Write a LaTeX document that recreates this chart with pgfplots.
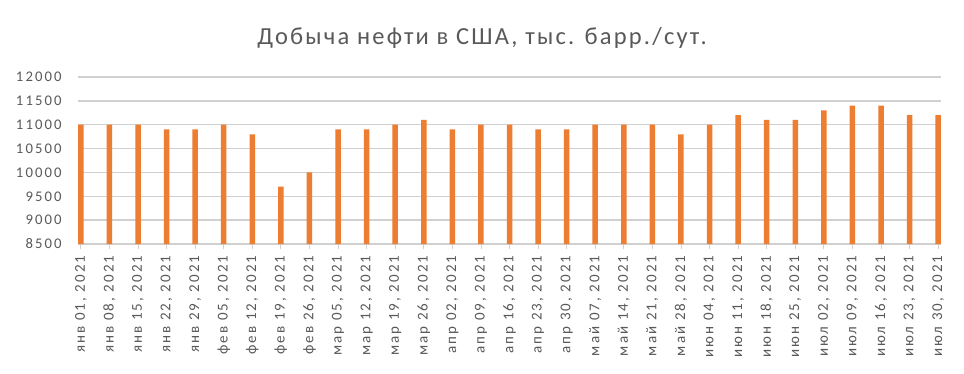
\documentclass[border=0pt]{standalone}
\usepackage{fontspec}
\setmainfont{Carlito}
\newfontfamily\titlefont[LetterSpace=9]{Carlito}
\newfontfamily\yfont[LetterSpace=14]{Carlito}
\newfontfamily\xfont[LetterSpace=14]{Carlito}
\usepackage{pgfplots}
\pgfplotsset{compat=1.18}
\definecolor{barc}{HTML}{ED7D31}
\definecolor{gridc}{HTML}{D0D0D0}
\definecolor{txt}{HTML}{595959}
\begin{document}
\begin{tikzpicture}
\path[use as bounding box, fill=white] (0,0) rectangle (964bp,-374bp);
\node[text=txt, font=\titlefont\fontsize{24.5bp}{28bp}\selectfont] at (482bp,-38bp) {Добыча нефти в США, тыс. барр./сут.};
\begin{axis}[
  anchor=north west, at={(78bp,-77bp)},
  width=863bp, height=167bp, scale only axis,
  xmin=-0.1, xmax=30.1, ymin=8500, ymax=12000,
  ytick={8500,9000,...,12000},
  scaled y ticks=false,
  xtick=data,
  xticklabels={{янв 01, 2021},{янв 08, 2021},{янв 15, 2021},{янв 22, 2021},{янв 29, 2021},{фев 05, 2021},{фев 12, 2021},{фев 19, 2021},{фев 26, 2021},{мар 05, 2021},{мар 12, 2021},{мар 19, 2021},{мар 26, 2021},{апр 02, 2021},{апр 09, 2021},{апр 16, 2021},{апр 23, 2021},{апр 30, 2021},{май 07, 2021},{май 14, 2021},{май 21, 2021},{май 28, 2021},{июн 04, 2021},{июн 11, 2021},{июн 18, 2021},{июн 25, 2021},{июл 02, 2021},{июл 09, 2021},{июл 16, 2021},{июл 23, 2021},{июл 30, 2021}},
  x tick label style={rotate=90, anchor=east, font=\xfont\fontsize{15bp}{17bp}\selectfont, text=txt},
  y tick label style={font=\yfont\fontsize{14.7bp}{17bp}\selectfont, text=txt},
  /pgf/number format/assume math mode=true,
  /pgf/number format/set thousands separator={},
  ymajorgrids, grid style={gridc, line width=1.3pt},
  axis line style={draw=none},
  axis x line*=bottom, axis y line*=left,
  x axis line style={draw=gridc, line width=1.2pt},
  ytick style={draw=none},
  xtick style={draw=gridc, line width=0.8pt},
  tick align=outside, major tick length=5bp,
  xticklabel shift=3bp,
  yticklabel shift=8bp,
  ybar, bar width=5.5bp, bar shift=0pt,
]
\addplot[fill=barc, draw=none] coordinates {
(0,11000) (1,11000) (2,11000) (3,10900) (4,10900) (5,11000) (6,10800) (7,9700) (8,10000)
(9,10900) (10,10900) (11,11000) (12,11100) (13,10900) (14,11000) (15,11000) (16,10900)
(17,10900) (18,11000) (19,11000) (20,11000) (21,10800) (22,11000) (23,11200) (24,11100)
(25,11100) (26,11300) (27,11400) (28,11400) (29,11200) (30,11200)};
\end{axis}
\end{tikzpicture}
\end{document}
